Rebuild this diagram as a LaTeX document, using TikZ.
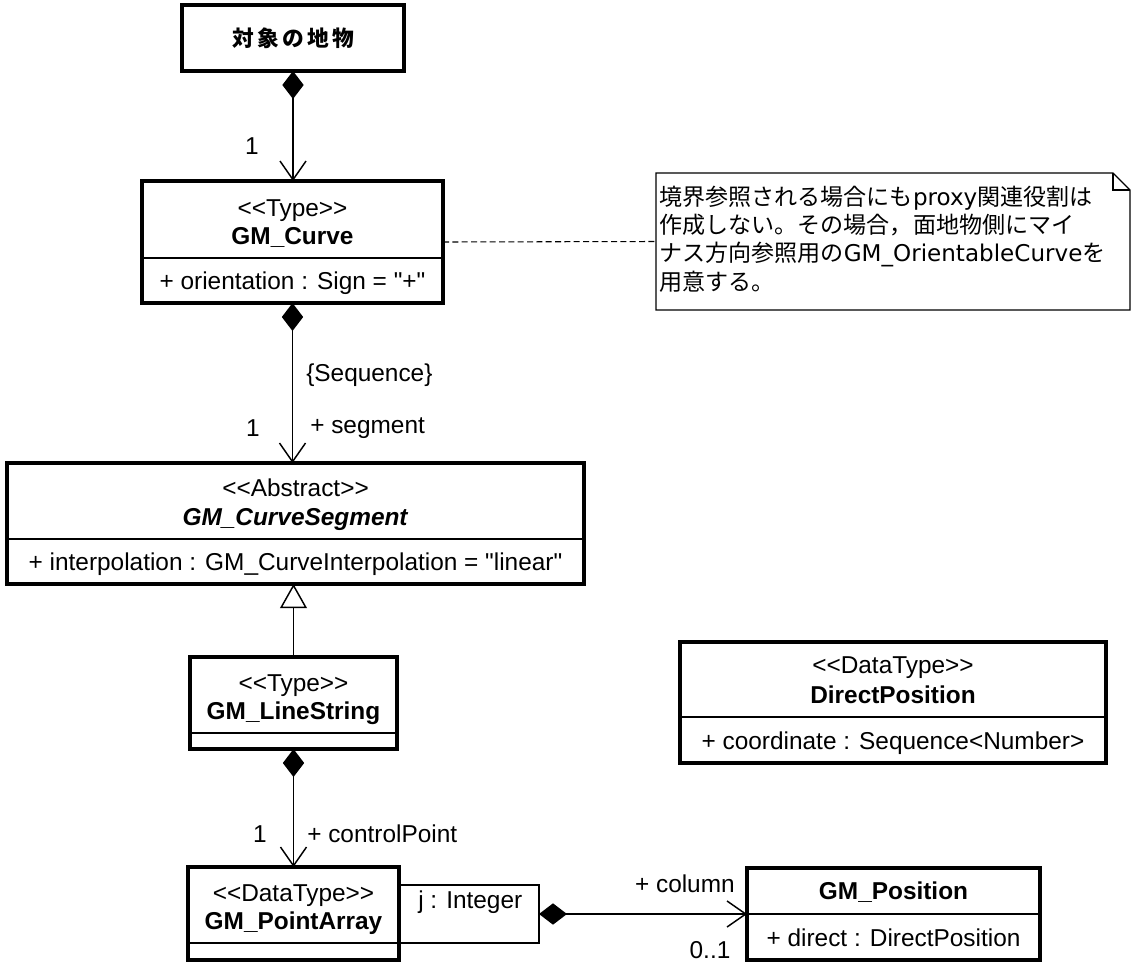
\documentclass[tikz,border=0pt]{standalone}
\usepackage{fontspec}
\newfontfamily\umlfont{Liberation Sans}
\newfontfamily\jpfont{Noto Sans CJK JP}
\newfontfamily\latfont{DejaVu Sans}
\usetikzlibrary{arrows.meta, positioning, calc}

\begin{document}
\begin{tikzpicture}[x=0.75pt, y=-0.75pt,
    cls/.style={draw, line width=2.4pt, inner sep=0pt, outer sep=0pt},
    qbox/.style={draw, line width=1pt, inner sep=0pt, outer sep=0pt},
    sep/.style={line width=1pt},
    txt/.style={font=\umlfont\fontsize{18.3}{22}\selectfont, inner sep=0pt, text height=13pt, text depth=3.8pt},
    comp/.style={line width=1.1pt, {Diamond[length=21pt, width=16pt]}-{Straight Barb[length=14pt, width=19.5pt]}},
    gen/.style={line width=1.1pt, -{Triangle[open, length=18pt, width=20pt]}},
    notebox/.style={line width=1pt, line join=miter}
]
    \useasboundingbox (0,0) rectangle (1131,964);

    % Feature box
    \node[cls, minimum width=166.5pt, minimum height=49.5pt, font=\jpfont\bfseries\fontsize{16.3}{19}\selectfont] (feat) at (293,38) {対\hspace{2.5pt}象\hspace{2.5pt}の\hspace{2.5pt}地\hspace{2.5pt}物};

    % GM_Curve
    \node[cls, minimum width=225.75pt, minimum height=91.5pt] (curve) at (292.5,242) {};
    \node[txt] (curvest) at (292.5,210) {<<Type>>};
    \node[txt] (curvename) at (292.5,238) {\textbf{GM\_Curve}};
    \draw[sep] (curve.west |- 0,258) -- (curve.east |- 0,258);
    \node[txt] (curveattr) at (292.5,283) {+ orientation : Sign = "+"};

    % Note
    \node[minimum width=355.5pt, minimum height=102.75pt, inner sep=0pt, outer sep=0pt] (note) at (893,241.5) {};
    \draw[notebox] (note.north west) -- ([xshift=-12.75pt]note.north east) -- ([yshift=-12.75pt]note.north east) -- (note.south east) -- (note.south west) -- cycle;
    \draw[notebox] ([xshift=-12.75pt]note.north east) |- ([yshift=-12.75pt]note.north east);
    \node[anchor=west, align=left, inner sep=0pt, font=\jpfont\fontsize{17.3}{21.2}\selectfont] (notetext) at (659,239) {境界参照される場合にも{\latfont proxy}関連役割は\\作成しない。その場合，面地物側にマイ\\ナス方向参照用の{\latfont GM\_OrientableCurve}を\\用意する。};
    \draw[dashed, line width=0.8pt, dash pattern=on 4.5pt off 2.5pt] (curve.east) -- (note.west);

    % GM_CurveSegment
    \node[cls, minimum width=432.75pt, minimum height=90.75pt] (seg) at (295.5,523.5) {};
    \node[txt] (segst) at (295.5,490) {<<Abstract>>};
    \node[txt] (segname) at (295.5,519) {\textbf{\textit{GM\_CurveSegment}}};
    \draw[sep] (seg.west |- 0,539) -- (seg.east |- 0,539);
    \node[txt] (segattr) at (295.5,564) {+ interpolation : GM\_CurveInterpolation = "linear"};

    % GM_LineString
    \node[cls, minimum width=155.25pt, minimum height=69pt] (line) at (293.5,703) {};
    \node[txt] (linest) at (293.5,685) {<<Type>>};
    \node[txt] (linename) at (293.5,713) {\textbf{GM\_LineString}};
    \draw[sep] (line.west |- 0,733) -- (line.east |- 0,733);

    % DirectPosition
    \node[cls, minimum width=319.5pt, minimum height=90.75pt] (dpos) at (893,702.5) {};
    \node[txt] (dposst) at (893,667) {<<DataType>>};
    \node[txt] (dposname) at (893,697) {\textbf{DirectPosition}};
    \draw[sep] (dpos.west |- 0,717) -- (dpos.east |- 0,717);
    \node[txt] (dposattr) at (893,743) {+ coordinate : Sequence<Number>};

    % GM_PointArray with qualifier
    \node[qbox, minimum width=105pt, minimum height=43.5pt] (qual) at (469,914) {};
    \node[txt, anchor=west] (qualtxt) at (418,902) {j : Integer};
    \node[cls, minimum width=158.25pt, minimum height=69.75pt] (parr) at (293.5,913.5) {};
    \node[txt] (parrst) at (293.5,895) {<<DataType>>};
    \node[txt] (parrname) at (293.5,923) {\textbf{GM\_PointArray}};
    \draw[sep] (parr.west |- 0,943) -- (parr.east |- 0,943);

    % GM_Position
    \node[cls, minimum width=219.75pt, minimum height=69pt] (gpos) at (893.5,914) {};
    \node[txt] (gposname) at (893.5,893) {\textbf{GM\_Position}};
    \draw[sep] (gpos.west |- 0,914) -- (gpos.east |- 0,914);
    \node[txt] (gposattr) at (893.5,940) {+ direct : DirectPosition};

    % Connectors
    \draw[comp] (feat.south) -- (feat.south |- curve.north);
    \draw[comp] (curve.south) -- (curve.south |- seg.north);
    \draw[gen] (line.north) -- (line.north |- seg.south);
    \draw[comp] (line.south) -- (line.south |- parr.north);
    \draw[comp] (qual.east) -- (gpos.west);

    % Role names and multiplicities
    \node[txt] (m1) at (252,148) {1};
    \node[txt, anchor=west] (seqlbl) at (306,375) {\{Sequence\}};
    \node[txt] (m2) at (253,430) {1};
    \node[txt, anchor=west] (segrole) at (310,427) {+ segment};
    \node[txt] (m3) at (260,836) {1};
    \node[txt, anchor=west] (cprole) at (307,836) {+ controlPoint};
    \node[txt, anchor=east] (colrole) at (735,886) {+ column};
    \node[txt] (m4) at (710,952) {0..1};
\end{tikzpicture}
\end{document}
